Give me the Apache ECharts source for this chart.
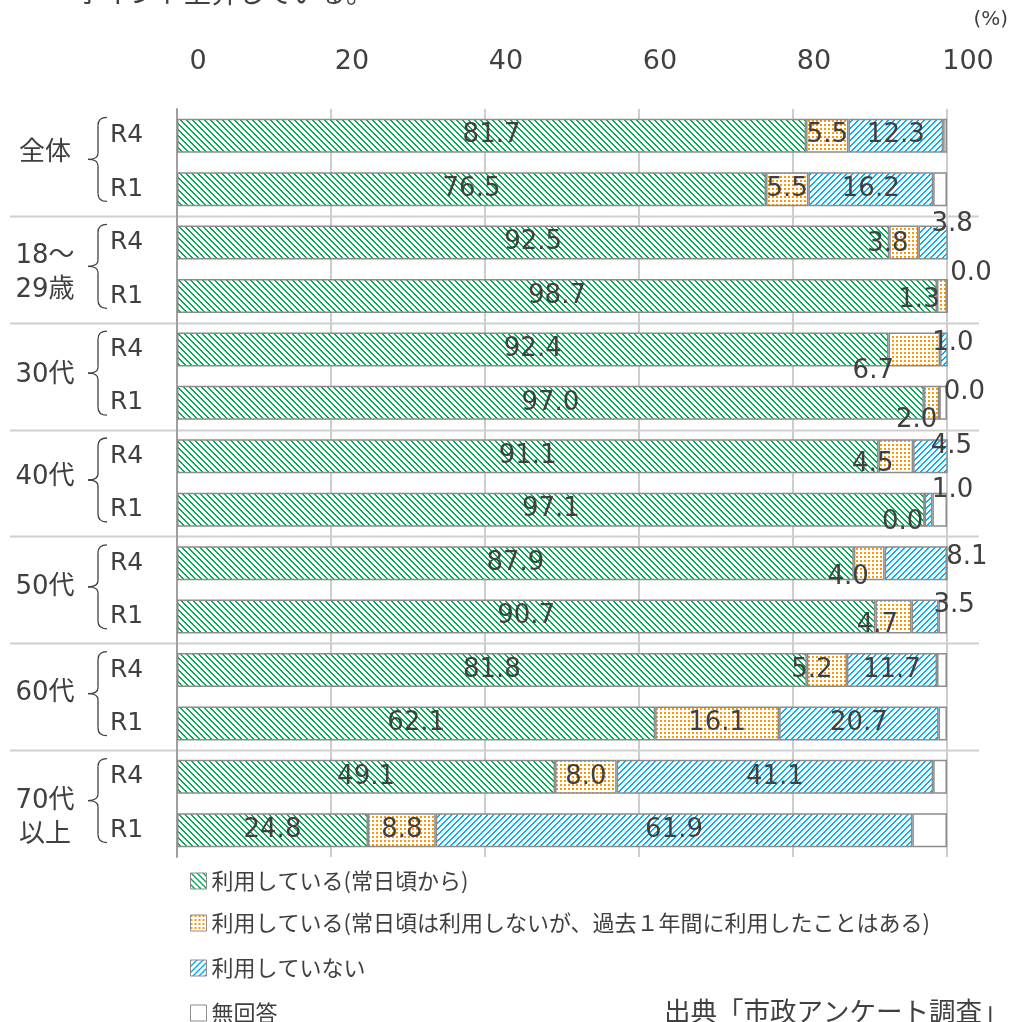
<!DOCTYPE html>
<html><head><meta charset="utf-8">
<script src="https://cdn.jsdelivr.net/npm/echarts@6/dist/echarts.min.js"></script>
<style>html,body{margin:0;padding:0;background:#fff}#c{width:1012px;height:1022px}</style>
</head><body><div id="c"></div>
<script>
// ---- data ----
const groups = ['全体', '18〜\n29歳', '30代', '40代', '50代', '60代', '70代\n以上'];
const rounds = ['R4','R1','R4','R1','R4','R1','R4','R1','R4','R1','R4','R1','R4','R1'];
const seriesNames = [
  '利用している(常日頃から)',
  '利用している(常日頃は利用しないが、過去１年間に利用したことはある)',
  '利用していない',
  '無回答'
];
const dailyUse    = [81.7, 76.5, 92.5, 98.7, 92.4, 97.0, 91.1, 97.1, 87.9, 90.7, 81.8, 62.1, 49.1, 24.8];
const pastYearUse = [5.5, 5.5, 3.8, 1.3, 6.7, 2.0, 4.5, 0.0, 4.0, 4.7, 5.2, 16.1, 8.0, 8.8];
const notUsing    = [12.3, 16.2, 3.8, 0.0, 1.0, 0.0, 4.5, 1.0, 8.1, 3.5, 11.7, 20.7, 41.1, 61.9];
const noAnswer    = [0.5, 1.8, 0.0, 0.0, 0.0, 1.0, 0.0, 1.9, 0.0, 1.1, 1.3, 1.1, 1.8, 4.5];
const axisMin = 0, axisMax = 100, axisStep = 20;

// ---- label nudges (layout only) ----
const orangeOffsets = {2:[-16,2],3:[-23,4],4:[-41,22],5:[-15,17],6:[-23,8],7:[-22,13],8:[-21,14],9:[-16,9],10:[-15,0]};
const blueOffsets   = {2:[19,-18],3:[24,-23],4:[9,-6],5:[25,-11],6:[21,-10],7:[24,-19],8:[51,-6],9:[29,-11]};
const groupLabelShift = [-9, 4, -1, -6, -3, -3, 15];

const FONT = "'DejaVu Sans', 'Noto Sans CJK JP', sans-serif";
const TXT = '#404040';

function makePattern(color, type) {
  const c = document.createElement('canvas');
  const n = type === 'dots' ? 4 : 6;
  c.width = n; c.height = n;
  const g = c.getContext('2d');
  g.fillStyle = '#fff'; g.fillRect(0, 0, n, n);
  g.fillStyle = color;
  if (type === 'dots') {
    g.fillRect(0, 0, 2, 2);
  } else {
    for (let i = 0; i < n; i++) {
      const x = type === 'back' ? i : (n - 1 - i);
      g.fillRect(x % n, i, 1, 1);
      g.fillRect((x + 1) % n, i, 1, 1);
    }
  }
  return { image: c, repeat: 'repeat' };
}

const fills = [
  makePattern('#00ad55', 'back'),
  makePattern('#ff9900', 'dots'),
  makePattern('#00b0f0', 'fwd'),
  '#ffffff'
];

function withOffsets(arr, offs) {
  return arr.map((v, i) => offs[i] ? { value: v, label: { offset: offs[i] } } : v);
}

const seriesData = [
  dailyUse,
  withOffsets(pastYearUse, orangeOffsets),
  withOffsets(notUsing, blueOffsets),
  noAnswer
];

const chart = echarts.init(document.getElementById('c'), null, { renderer: 'canvas' });

const legendTops = [864, 906, 951, 996];
const option = {
  animation: false,
  backgroundColor: '#fff',
  textStyle: { fontFamily: FONT },
  grid: { left: 177, right: 65, top: 109, bottom: 165, outerBoundsMode: 'none', containLabel: false },
  legend: seriesNames.map((nm, k) => ({
    orient: 'vertical', left: 185, top: legendTops[k],
    itemWidth: 16, itemHeight: 16, icon: 'rect',
    data: [nm],
    itemStyle: { borderColor: '#8c8c8c', borderWidth: 1 },
    textStyle: { fontSize: 22, color: TXT, fontFamily: "'Noto Sans CJK JP', sans-serif", lineHeight: 24 }
  })),
  xAxis: {
    type: 'value', position: 'top', min: axisMin, max: axisMax, interval: axisStep,
    axisLine: { show: false }, axisTick: { show: false },
    axisLabel: { fontSize: 27, color: TXT, margin: 34, padding: [0, 0, 0, 42], fontFamily: FONT },
    splitLine: { show: true, lineStyle: { color: '#bcbcbc', width: 1.5 } }
  },
  yAxis: {
    type: 'category', data: rounds, inverse: true,
    axisLine: { show: true, lineStyle: { color: '#a0a0a0', width: 2 } },
    axisTick: { show: false },
    axisLabel: { align: 'left', margin: 67, fontSize: 25, color: TXT, fontFamily: FONT, padding: [0, 0, 8, 0] }
  },
  series: seriesData.map((d, k) => ({
    name: seriesNames[k],
    type: 'bar', stack: 'total',
    barWidth: 34,
    data: d,
    itemStyle: { color: fills[k], borderColor: '#8c8c8c', borderWidth: 1.5 },
    label: {
      show: k < 3, position: 'inside', fontSize: 26, color: TXT, fontFamily: FONT,
      formatter: p => Number(p.value).toFixed(1)
    },
    emphasis: { disabled: true }
  }))
};
chart.setOption(option);

// decorations positioned through the axis scale
const py = i => chart.convertToPixel({ yAxisIndex: 0 }, i);
const gfx = [];
for (let k = 0; k < groups.length - 1; k++) {
  const y = Math.round((py(2 * k + 1) + py(2 * k + 2)) / 2) + 0.5;
  gfx.push({ type: 'line', z: 0, shape: { x1: 10, y1: y, x2: 979, y2: y },
    style: { stroke: '#d0d0d0', lineWidth: 2 } });
}
const braceStyle = { stroke: '#404040', lineWidth: 1.3, fill: null };
for (let k = 0; k < groups.length; k++) {
  const gc = (py(2 * k) + py(2 * k + 1)) / 2;
  gfx.push({ type: 'text', z: 10, style: { text: groups[k], x: 45, y: gc + groupLabelShift[k],
    textAlign: 'center', textVerticalAlign: 'middle', lineHeight: 34,
    fontSize: 26, fontFamily: FONT, fill: TXT } });
  const c = gc - 3;
  const t = c - 42, b = c + 42;
  gfx.push({ type: 'bezierCurve', z: 10, shape: { x1: 107, y1: t, x2: 98, y2: t + 8, cpx1: 98, cpy1: t }, style: braceStyle });
  gfx.push({ type: 'line', z: 10, shape: { x1: 98, y1: t + 8, x2: 98, y2: c - 6 }, style: braceStyle });
  gfx.push({ type: 'bezierCurve', z: 10, shape: { x1: 98, y1: c - 6, x2: 88, y2: c, cpx1: 98, cpy1: c }, style: braceStyle });
  gfx.push({ type: 'bezierCurve', z: 10, shape: { x1: 88, y1: c, x2: 98, y2: c + 6, cpx1: 98, cpy1: c }, style: braceStyle });
  gfx.push({ type: 'line', z: 10, shape: { x1: 98, y1: c + 6, x2: 98, y2: b - 8 }, style: braceStyle });
  gfx.push({ type: 'bezierCurve', z: 10, shape: { x1: 98, y1: b - 8, x2: 107, y2: b, cpx1: 98, cpy1: b }, style: braceStyle });
}
gfx.push({ type: 'text', z: 10, style: { text: 'ポイント上昇している。', x: 76, y: -7,
  textAlign: 'left', textVerticalAlign: 'middle', font: "27px 'Noto Sans CJK JP'", fill: TXT } });
gfx.push({ type: 'text', z: 10, style: { text: '(%)', x: 1008, y: 20,
  textAlign: 'right', textVerticalAlign: 'middle', font: "20px 'DejaVu Sans'", fill: TXT } });
gfx.push({ type: 'text', z: 10, style: { text: '出典「市政アンケート調査」', x: 664, y: 1011,
  textAlign: 'left', textVerticalAlign: 'middle', font: "26.5px 'Noto Sans CJK JP'", fill: TXT } });
chart.setOption({ graphic: gfx });
</script>
</body></html>
